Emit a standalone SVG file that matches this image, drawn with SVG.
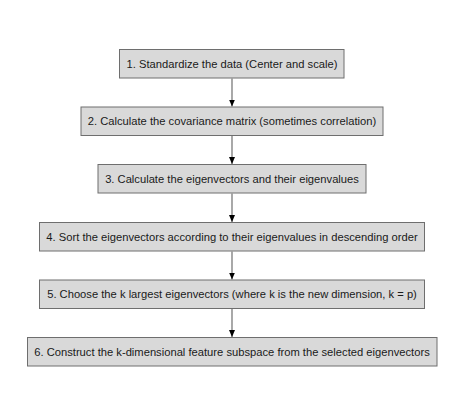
<svg xmlns="http://www.w3.org/2000/svg" width="460" height="412" viewBox="0 0 460 412">
<style>
.box{fill:#d9d9d9;stroke:#6e6e6e;stroke-width:1}
.lbl{font-family:"Liberation Sans",Arial,sans-serif;font-size:11.2px;fill:#1a1a1a;text-anchor:middle}
.edge{stroke:#7a7a7a;stroke-width:1.3;fill:none;marker-end:url(#ah)}
</style>
<defs>
<marker id="ah" viewBox="0 0 7 6" refX="7" refY="3" markerWidth="7" markerHeight="6" markerUnits="userSpaceOnUse" orient="auto">
<path d="M0,0 L7,3 L0,6 Z" fill="#000"/>
</marker>
</defs>
<rect width="460" height="412" fill="#fff"/>
<g id="connectors">
<path class="edge" d="M232,78.5 V106.5"/>
<path class="edge" d="M232,136 V164"/>
<path class="edge" d="M232,193.5 V222"/>
<path class="edge" d="M232,251.5 V279.5"/>
<path class="edge" d="M232,309 V337"/>
</g>
<g id="n1">
<rect class="box" x="119.5" y="49.5" width="224.5" height="28.5"/>
<text class="lbl" x="232" y="67.5">1. Standardize the data (Center and scale)</text>
</g>
<g id="n2">
<rect class="box" x="81" y="107" width="302" height="28.5"/>
<text class="lbl" x="232" y="125">2. Calculate the covariance matrix (sometimes correlation)</text>
</g>
<g id="n3">
<rect class="box" x="98" y="164.5" width="268" height="28.5"/>
<text class="lbl" x="232" y="182.5">3. Calculate the eigenvectors and their eigenvalues</text>
</g>
<g id="n4">
<rect class="box" x="39.5" y="222.5" width="385" height="28.5"/>
<text class="lbl" x="232" y="240.5">4. Sort the eigenvectors according to their eigenvalues in descending order</text>
</g>
<g id="n5">
<rect class="box" x="39.5" y="280" width="385" height="28.5"/>
<text class="lbl" x="232" y="298">5. Choose the k largest eigenvectors (where k is the new dimension, k = p)</text>
</g>
<g id="n6">
<rect class="box" x="27.5" y="337.5" width="409.5" height="28.5"/>
<text class="lbl" x="232" y="355.5">6. Construct the k-dimensional feature subspace from the selected eigenvectors</text>
</g>
</svg>
